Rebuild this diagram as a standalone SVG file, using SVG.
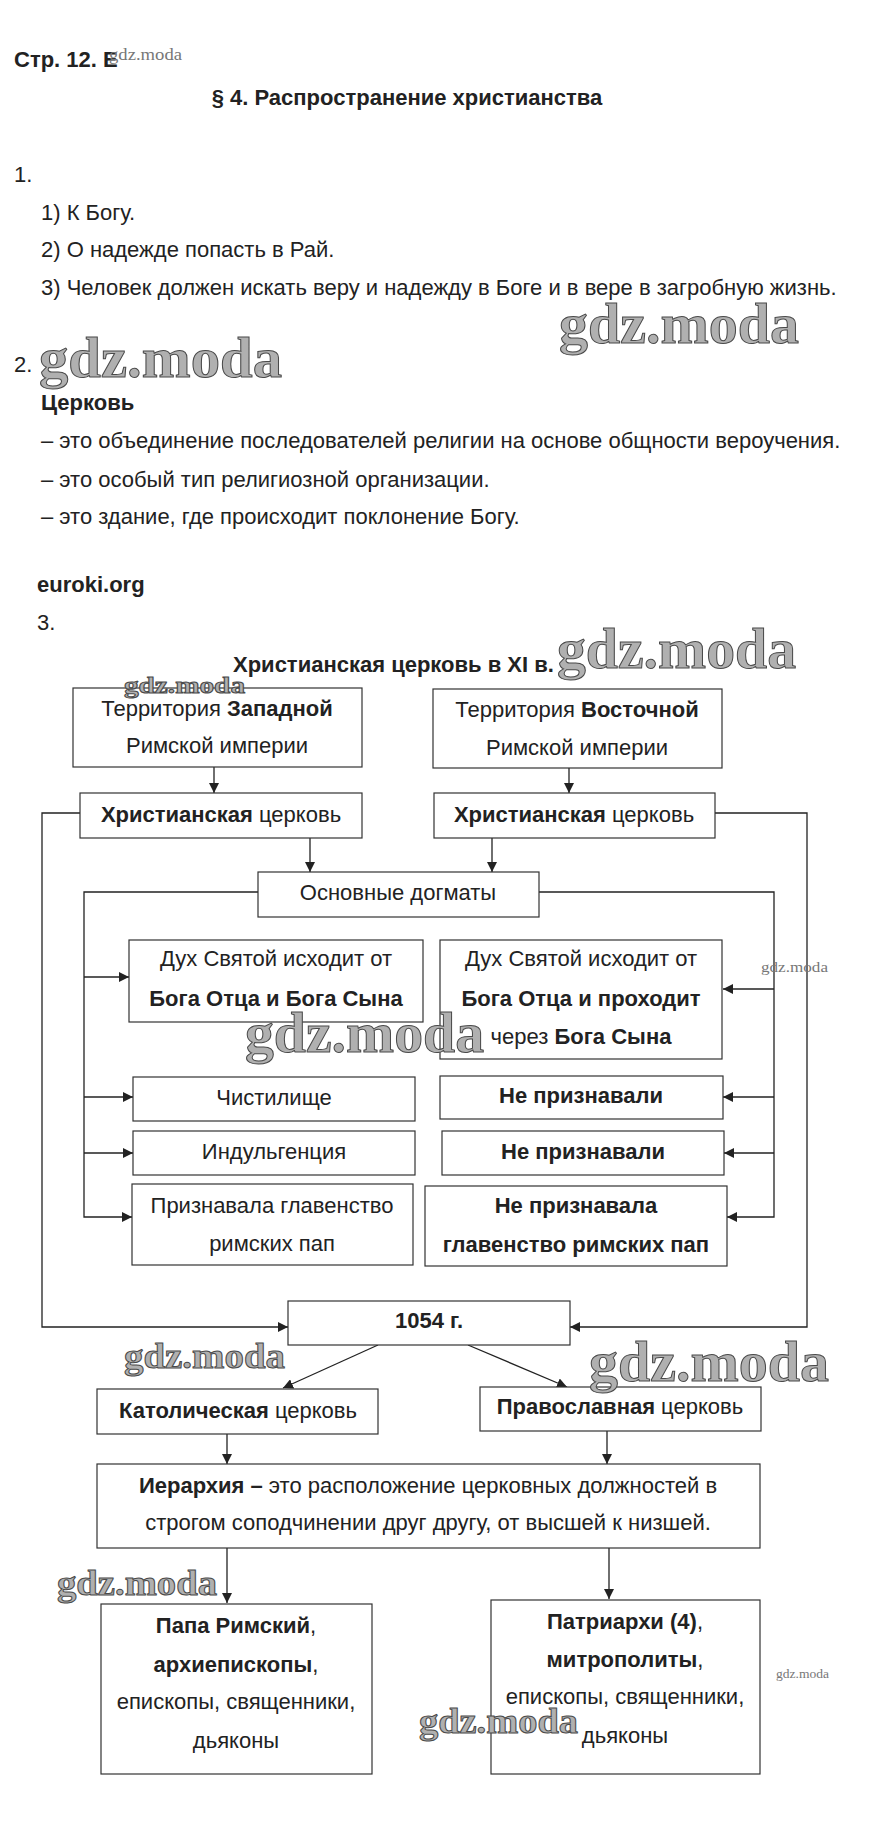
<svg xmlns="http://www.w3.org/2000/svg" width="872" height="1830" viewBox="0 0 872 1830">
<defs>
<style>
.t{font-family:"Liberation Sans",Arial,sans-serif;font-size:22px;fill:#222}
.c{text-anchor:middle}
.b{font-weight:bold}
.box{fill:#fff;stroke:#333;stroke-width:1.2}
.ln{fill:none;stroke:#222;stroke-width:1.3}
.wm{font-family:"Liberation Serif","Times New Roman",serif;font-weight:bold;fill:#b0b0b0;stroke:#4a4a4a;stroke-width:1}
.ws{font-family:"Liberation Serif","Times New Roman",serif;fill:#777}
</style>
<marker id="ar" markerUnits="userSpaceOnUse" markerWidth="11" markerHeight="10" refX="10" refY="5" orient="auto">
<path d="M0,0 L10,5 L0,10 z" fill="#222"/>
</marker>
</defs>
<rect width="872" height="1830" fill="#fff"/>

<g id="header">
<text class="t b" x="14" y="67">Стр. 12. Е</text>
<text class="t b c" x="407" y="105">§ 4. Распространение христианства</text>
<text class="t" x="14" y="182">1.</text>
<text class="t" x="41" y="220">1) К Богу.</text>
<text class="t" x="41" y="257">2) О надежде попасть в Рай.</text>
<text class="t" x="41" y="295">3) Человек должен искать веру и надежду в Боге и в вере в загробную жизнь.</text>
<text class="t" x="14" y="372">2.</text>
<text class="t b" x="41" y="410">Церковь</text>
<text class="t" x="41" y="448">– это объединение последователей религии на основе общности вероучения.</text>
<text class="t" x="41" y="487">– это особый тип религиозной организации.</text>
<text class="t" x="41" y="524">– это здание, где происходит поклонение Богу.</text>
<text class="t b" x="37" y="592">euroki.org</text>
<text class="t" x="37" y="630">3.</text>
<text class="t b" x="233" y="672">Христианская церковь в XI в.</text>
</g>

<g id="connectors">
<line class="ln" x1="214" y1="767" x2="214" y2="793" marker-end="url(#ar)"/>
<line class="ln" x1="569" y1="768" x2="569" y2="793" marker-end="url(#ar)"/>
<line class="ln" x1="310" y1="838" x2="310" y2="872" marker-end="url(#ar)"/>
<line class="ln" x1="492" y1="838" x2="492" y2="872" marker-end="url(#ar)"/>
<polyline class="ln" points="80,813 42,813 42,1327 288,1327" marker-end="url(#ar)"/>
<polyline class="ln" points="715,813 807,813 807,1327 570,1327" marker-end="url(#ar)"/>
<polyline class="ln" points="258,892 84,892 84,1217 132,1217" marker-end="url(#ar)"/>
<line class="ln" x1="84" y1="977" x2="129" y2="977" marker-end="url(#ar)"/>
<line class="ln" x1="84" y1="1097" x2="133" y2="1097" marker-end="url(#ar)"/>
<line class="ln" x1="84" y1="1153" x2="133" y2="1153" marker-end="url(#ar)"/>
<polyline class="ln" points="539,892 774,892 774,1217 727,1217" marker-end="url(#ar)"/>
<line class="ln" x1="774" y1="989" x2="723" y2="989" marker-end="url(#ar)"/>
<line class="ln" x1="774" y1="1097" x2="723" y2="1097" marker-end="url(#ar)"/>
<line class="ln" x1="774" y1="1153" x2="724" y2="1153" marker-end="url(#ar)"/>
<line class="ln" x1="378" y1="1345" x2="283" y2="1388" marker-end="url(#ar)"/>
<line class="ln" x1="468" y1="1345" x2="567" y2="1387" marker-end="url(#ar)"/>
<line class="ln" x1="227" y1="1434" x2="227" y2="1464" marker-end="url(#ar)"/>
<line class="ln" x1="607" y1="1431" x2="607" y2="1464" marker-end="url(#ar)"/>
<line class="ln" x1="227" y1="1548" x2="227" y2="1603" marker-end="url(#ar)"/>
<line class="ln" x1="609" y1="1548" x2="609" y2="1599" marker-end="url(#ar)"/>
</g>

<g id="west-territory"><rect class="box" x="73" y="688" width="289" height="79"/>
<text class="t c" x="217" y="716">Территория <tspan class="b">Западной</tspan></text>
<text class="t c" x="217" y="753">Римской империи</text></g>
<g id="east-territory"><rect class="box" x="433" y="689" width="289" height="79"/>
<text class="t c" x="577" y="717">Территория <tspan class="b">Восточной</tspan></text>
<text class="t c" x="577" y="755">Римской империи</text></g>
<g id="west-church"><rect class="box" x="80" y="793" width="282" height="45"/>
<text class="t c" x="221" y="822"><tspan class="b">Христианская</tspan> церковь</text></g>
<g id="east-church"><rect class="box" x="434" y="793" width="281" height="45"/>
<text class="t c" x="574" y="822"><tspan class="b">Христианская</tspan> церковь</text></g>
<g id="dogmas"><rect class="box" x="258" y="872" width="281" height="45"/>
<text class="t c" x="398" y="900">Основные догматы</text></g>
<g id="west-spirit"><rect class="box" x="129" y="940" width="294" height="82"/>
<text class="t c" x="276" y="966">Дух Святой исходит от</text>
<text class="t c b" x="276" y="1006">Бога Отца и Бога Сына</text></g>
<g id="east-spirit"><rect class="box" x="440" y="940" width="282" height="119"/>
<text class="t c" x="581" y="966">Дух Святой исходит от</text>
<text class="t c b" x="581" y="1006">Бога Отца и проходит</text>
<text class="t c" x="581" y="1044">через <tspan class="b">Бога Сына</tspan></text></g>
<g id="purgatory"><rect class="box" x="133" y="1077" width="282" height="44"/>
<text class="t c" x="274" y="1105">Чистилище</text></g>
<g id="indulgence"><rect class="box" x="133" y="1131" width="282" height="44"/>
<text class="t c" x="274" y="1159">Индульгенция</text></g>
<g id="west-pope"><rect class="box" x="132" y="1184" width="281" height="81"/>
<text class="t c" x="272" y="1213">Признавала главенство</text>
<text class="t c" x="272" y="1251">римских пап</text></g>
<g id="east-purgatory"><rect class="box" x="440" y="1076" width="283" height="43"/>
<text class="t c b" x="581" y="1103">Не признавали</text></g>
<g id="east-indulgence"><rect class="box" x="442" y="1131" width="282" height="44"/>
<text class="t c b" x="583" y="1159">Не признавали</text></g>
<g id="east-pope"><rect class="box" x="425" y="1186" width="302" height="80"/>
<text class="t c b" x="576" y="1213">Не признавала</text>
<text class="t c b" x="576" y="1252">главенство римских пап</text></g>
<g id="schism"><rect class="box" x="288" y="1301" width="282" height="44"/>
<text class="t c b" x="429" y="1328">1054 г.</text></g>
<g id="catholic"><rect class="box" x="97" y="1389" width="281" height="45"/>
<text class="t c" x="238" y="1418"><tspan class="b">Католическая</tspan> церковь</text></g>
<g id="orthodox"><rect class="box" x="480" y="1387" width="281" height="44"/>
<text class="t c" x="620" y="1414"><tspan class="b">Православная</tspan> церковь</text></g>
<g id="hierarchy"><rect class="box" x="97" y="1464" width="663" height="84"/>
<text class="t c" x="428" y="1493"><tspan class="b">Иерархия –</tspan> это расположение церковных должностей в</text>
<text class="t c" x="428" y="1530">строгом соподчинении друг другу, от высшей к низшей.</text></g>
<g id="catholic-ranks"><rect class="box" x="101" y="1604" width="271" height="170"/>
<text class="t c" x="236" y="1633"><tspan class="b">Папа Римский</tspan>,</text>
<text class="t c" x="236" y="1672"><tspan class="b">архиепископы</tspan>,</text>
<text class="t c" x="236" y="1709">епископы, священники,</text>
<text class="t c" x="236" y="1748">дьяконы</text></g>
<g id="orthodox-ranks"><rect class="box" x="491" y="1600" width="269" height="174"/>
<text class="t c" x="625" y="1629"><tspan class="b">Патриархи (4)</tspan>,</text>
<text class="t c" x="625" y="1667"><tspan class="b">митрополиты</tspan>,</text>
<text class="t c" x="625" y="1704">епископы, священники,</text>
<text class="t c" x="625" y="1743">дьяконы</text></g>

<g id="watermarks">
<text class="ws" x="109" y="60" font-size="17" textLength="73" lengthAdjust="spacingAndGlyphs">gdz.moda</text>
<text class="wm" x="559" y="343" font-size="56" textLength="240" lengthAdjust="spacingAndGlyphs">gdz.moda</text>
<text class="wm" x="39" y="377" font-size="56" textLength="243" lengthAdjust="spacingAndGlyphs">gdz.moda</text>
<text class="wm" x="557" y="668" font-size="56" textLength="239" lengthAdjust="spacingAndGlyphs">gdz.moda</text>
<text class="wm" x="124" y="693" font-size="24" textLength="121" lengthAdjust="spacingAndGlyphs">gdz.moda</text>
<text class="ws" x="761" y="972" font-size="14" textLength="67" lengthAdjust="spacingAndGlyphs">gdz.moda</text>
<text class="wm" x="245" y="1052" font-size="56" textLength="239" lengthAdjust="spacingAndGlyphs">gdz.moda</text>
<text class="wm" x="124" y="1368" font-size="36" textLength="161" lengthAdjust="spacingAndGlyphs">gdz.moda</text>
<text class="wm" x="589" y="1381" font-size="56" textLength="240" lengthAdjust="spacingAndGlyphs">gdz.moda</text>
<text class="wm" x="57" y="1595" font-size="36" textLength="160" lengthAdjust="spacingAndGlyphs">gdz.moda</text>
<text class="ws" x="776" y="1678" font-size="13" textLength="53" lengthAdjust="spacingAndGlyphs">gdz.moda</text>
<text class="wm" x="419" y="1733" font-size="36" textLength="159" lengthAdjust="spacingAndGlyphs">gdz.moda</text>
</g>
</svg>
